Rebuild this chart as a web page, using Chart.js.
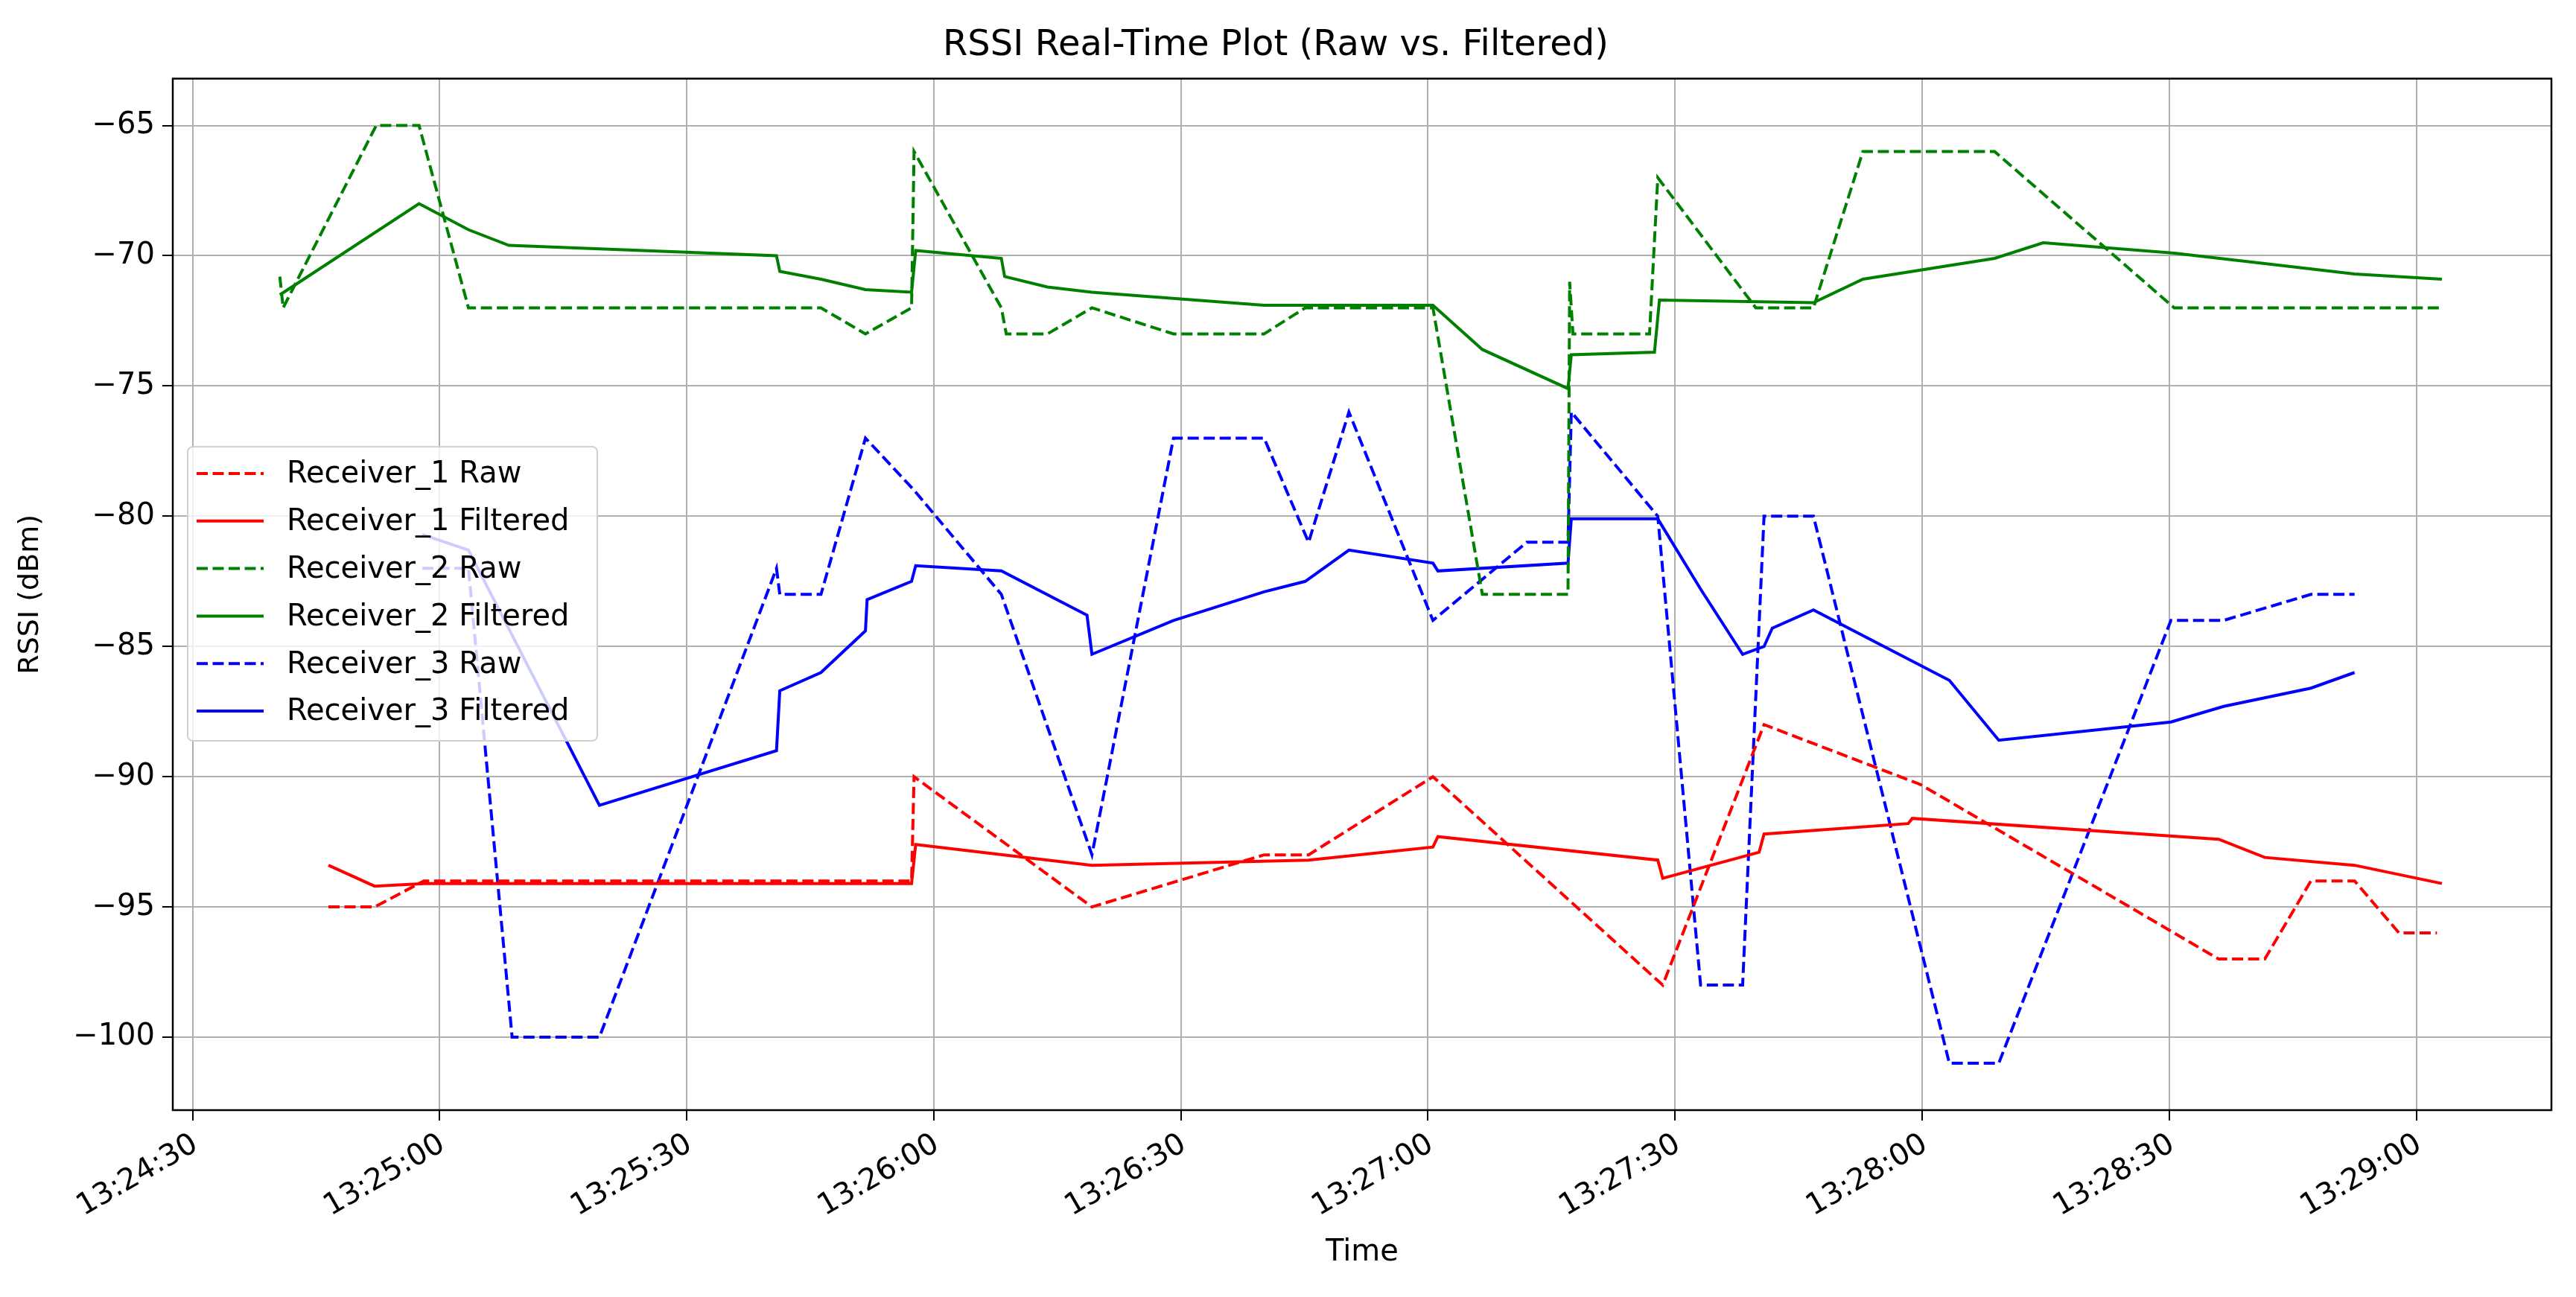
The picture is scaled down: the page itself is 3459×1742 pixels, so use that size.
<!DOCTYPE html>
<html><head><meta charset="utf-8">
<script src="https://cdn.jsdelivr.net/npm/chart.js@4"></script>
<style>html,body{margin:0;padding:0;background:#fff}#w{width:3459px;height:1742px}</style>
</head><body><div id="w"><canvas id="c"></canvas></div>
<script>
// times: seconds after 13:24:00
const r1RawT = [46.5,52.1,58.1,117.3,117.6,139.2,160.1,165.5,180.6,208.5,220.8,239.8,276.0,281.6,287.2,292.5,297.9,302.5];
const r1RawV = [-95,-95,-94,-94,-90,-95,-93,-93,-90,-98,-88,-90.3,-97,-97,-94,-94,-96,-96];
const r1FilT = [46.5,52.1,58.1,117.3,117.8,139.2,165.5,180.6,181.2,207.9,208.5,220.2,220.8,238.3,238.8,276,281.6,292.5,303.1];
const r1FilV = [-93.4,-94.2,-94.1,-94.1,-92.6,-93.4,-93.2,-92.7,-92.3,-93.2,-93.9,-92.9,-92.2,-91.8,-91.6,-92.4,-93.1,-93.4,-94.1];
const r2RawT = [40.6,41.0,52.3,57.5,63.5,106.3,111.7,117.3,117.6,128.2,128.8,133.8,139.2,149.1,160.1,165.1,180.6,186.6,197,197.2,197.6,206.9,207.9,219.8,226.8,232.8,248.8,270.6,303.1];
const r2RawV = [-70.8,-72,-65,-65,-72,-72,-73,-72,-66,-72,-73,-73,-72,-73,-73,-72,-72,-83,-83,-71,-73,-73,-67,-72,-72,-66,-66,-72,-72];
const r2FilT = [40.6,57.5,63.5,68.4,100.9,101.3,106.3,111.7,117.3,117.8,128.2,128.6,133.8,139.2,160.1,180.6,186.6,197,197.4,207.5,208.1,226.8,232.8,248.8,254.7,270.6,281.6,292.5,303.1];
const r2FilV = [-71.5,-68,-69,-69.6,-70,-70.6,-70.9,-71.3,-71.4,-69.8,-70.1,-70.8,-71.2,-71.4,-71.9,-71.9,-73.6,-75.1,-73.8,-73.7,-71.7,-71.8,-70.9,-70.1,-69.5,-69.9,-70.3,-70.7,-70.9];
const r3RawT = [57.9,63.5,68.8,79.4,100.9,101.3,106.3,111.7,117.6,128.2,139.2,149.1,160.1,165.5,170.4,180.6,192,197,197.4,207.9,213.1,218.2,220.8,226.8,243.3,249.3,270.2,276.6,287.2,292.5];
const r3RawV = [-82,-82,-100,-100,-82,-83,-83,-77,-79,-83,-93,-77,-77,-81,-76,-84,-81,-81,-76,-80,-98,-98,-80,-80,-101,-101,-84,-84,-83,-83];
const r3FilT = [57.9,63.5,79.4,100.9,101.3,106.3,111.7,111.9,117.3,117.8,128.2,138.6,139.2,149.1,160.1,165.1,170.4,180.6,181.2,197,197.4,207.9,213.1,218.2,220.8,221.8,226.8,243.3,249.3,270.2,276.6,287.2,292.5];
const r3FilV = [-80.7,-81.3,-91.1,-89,-86.7,-86,-84.4,-83.2,-82.5,-81.9,-82.1,-83.8,-85.3,-84,-82.9,-82.5,-81.3,-81.8,-82.1,-81.8,-80.1,-80.1,-82.8,-85.3,-85,-84.3,-83.6,-86.3,-88.6,-87.9,-87.3,-86.6,-86];
const xTicks = [30,60,90,120,150,180,210,240,270,300];
const yTicks = [-100,-95,-90,-85,-80,-75,-70,-65];
const seriesNames = ['Receiver_1 Raw','Receiver_1 Filtered','Receiver_2 Raw','Receiver_2 Filtered','Receiver_3 Raw','Receiver_3 Filtered'];

const pts=(t,v)=>t.map((x,i)=>({x,y:v[i]}));
const fmt=s=>{const m=24+Math.floor(s/60),sec=Math.round(s%60);return '13:'+String(m).padStart(2,'0')+':'+String(sec).padStart(2,'0');};
const cols=['#ff0000','#ff0000','#008000','#008000','#0000ff','#0000ff'];
const dash=[[15,6.5],[],[15,6.5],[],[15,6.5],[]];
const sets=[pts(r1RawT,r1RawV),pts(r1FilT,r1FilV),pts(r2RawT,r2RawV),pts(r2FilT,r2FilV),pts(r3RawT,r3RawV),pts(r3FilT,r3FilV)];
const F='DejaVu Sans';

const legendPlugin={id:'lg',afterDraw(ch){
  const c=ch.ctx;c.save();
  const x0=252,y0=600,w=550,h=395;
  c.fillStyle='rgba(255,255,255,0.8)';c.strokeStyle='#d0d0d0';c.lineWidth=2;
  c.beginPath();c.roundRect(x0,y0,w,h,7);c.fill();c.stroke();
  c.font='40px "'+F+'"';c.textBaseline='middle';
  for(let i=0;i<6;i++){const y=y0+36+i*63.8;
    c.strokeStyle=cols[i];c.lineWidth=4;c.setLineDash(dash[i]);
    c.beginPath();c.moveTo(264,y);c.lineTo(354,y);c.stroke();c.setLineDash([]);
    c.fillStyle='#000';c.fillText(seriesNames[i],385,y+2);}
  c.restore();}};
const borderPlugin={id:'bd',afterDatasetsDraw(ch){const a=ch.chartArea,c=ch.ctx;c.save();c.strokeStyle='#000';c.lineWidth=2.5;c.strokeRect(a.left,a.top,a.right-a.left,a.bottom-a.top);c.restore();}};
const xLabelPlugin={id:'xl',afterDraw(ch){const c=ch.ctx,s=ch.scales.x;c.save();
  c.font='40px "'+F+'"';c.fillStyle='#000';c.textAlign='right';c.textBaseline='top';
  xTicks.forEach(v=>{const px=s.getPixelForValue(v);c.save();c.translate(px-6,ch.chartArea.bottom+26);c.rotate(-Math.PI/6);c.fillText(fmt(v),0,0);c.restore();});
  c.restore();}};

new Chart(document.getElementById('c'),{type:'line',
 data:{datasets:sets.map((d,i)=>({label:seriesNames[i],data:d,borderColor:cols[i],borderWidth:4,borderDash:dash[i],pointRadius:0,fill:false,tension:0}))},
 options:{responsive:true,maintainAspectRatio:false,animation:false,devicePixelRatio:1,
  layout:{padding:{left:0,right:33,top:0,bottom:0}},
  plugins:{legend:{display:false},tooltip:{enabled:false},
   title:{display:true,text:'RSSI Real-Time Plot (Raw vs. Filtered)',color:'#000',font:{family:F,size:48,weight:'normal'},padding:{top:33,bottom:15}}},
  scales:{
   x:{type:'linear',min:27.6,max:316.4,
    afterBuildTicks:s=>{s.ticks=xTicks.map(v=>({value:v}));},
    afterFit:s=>{s.height=251;},
    ticks:{display:false},
    grid:{color:'#b0b0b0',lineWidth:2,tickColor:'#000',tickLength:14,drawOnChartArea:true,drawTicks:true},
    border:{display:false},
    title:{display:true,text:'Time',color:'#000',font:{family:F,size:40},padding:{top:0,bottom:35}}},
   y:{min:-102.8,max:-63.2,
    afterBuildTicks:s=>{s.ticks=yTicks.map(v=>({value:v}));},
    afterFit:s=>{s.width=232;},
    ticks:{callback:v=>String(v).replace('-','\u2212'),color:'#000',font:{family:F,size:40},padding:10},
    grid:{color:'#b0b0b0',lineWidth:2,tickColor:'#000',tickLength:14},
    border:{display:false},
    title:{display:true,text:'RSSI (dBm)',color:'#000',font:{family:F,size:38},padding:{top:18,bottom:0}}}
  }},
 plugins:[borderPlugin,legendPlugin,xLabelPlugin]});
</script></body></html>
